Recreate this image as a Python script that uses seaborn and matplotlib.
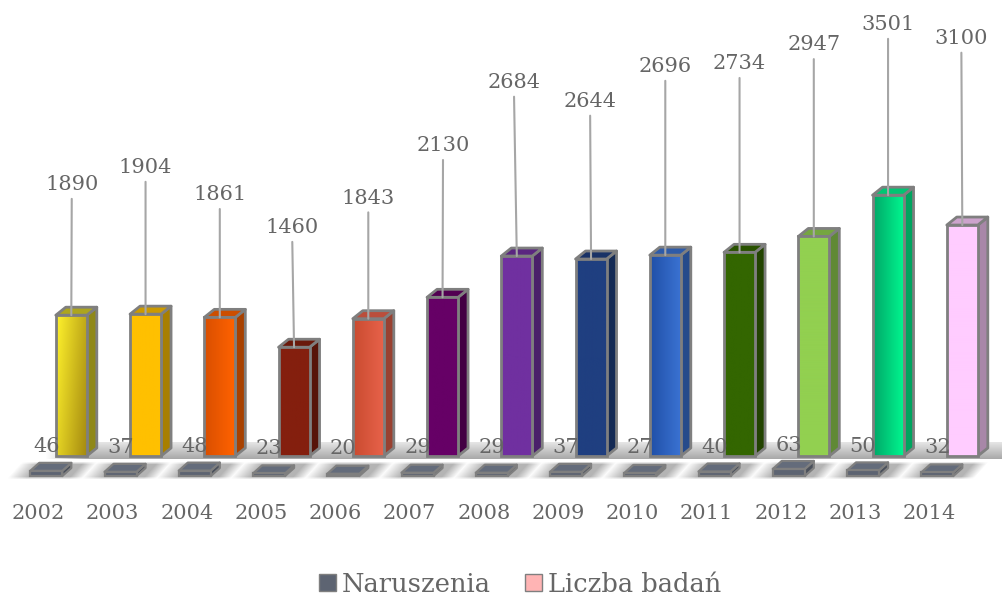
import numpy as np
import pandas as pd
import matplotlib
matplotlib.use('Agg')
import matplotlib.pyplot as plt
import matplotlib.patches as mpatches
from matplotlib.colors import to_rgb
from matplotlib.transforms import ScaledTranslation
import seaborn as sns

# THE DATA
years = ['2002', '2003', '2004', '2005', '2006', '2007', '2008', '2009', '2010', '2011', '2012', '2013', '2014']
naruszenia = [46, 37, 48, 23, 20, 29, 29, 37, 27, 40, 63, 50, 32]
liczba_badan = [1890, 1904, 1861, 1460, 1843, 2130, 2684, 2644, 2696, 2734, 2947, 3501, 3100]

# left and right colour of every front face
colors_left = ['#fff22c', '#ffc000', '#d94f00', '#841f0e', '#c94b30', '#660066', '#7030a0',
               '#1f3f80', '#2050a8', '#336600', '#92d050', '#00a868', '#ffccff']
colors_right = ['#a58a10', '#ffc000', '#ff6200', '#841f0e', '#e8624a', '#660066', '#7030a0',
                '#1f3f80', '#3a72d2', '#336600', '#92d050', '#00f890', '#ffccff']

# how far the labels were dragged from their bars, in pixels
label_lift = [130.5, 146.5, 122.5, 119.5, 120.5, 151.5, 173.5, 157.5, 188.5, 188.5, 191.5, 170.5, 186.5]
label_shift = [0.5, 0, 0, -2, 0, 0.5, -3, -1, 0, 0, 0, 0, -1]

# THE CHART
W, H = 1003, 595
X0, STEP = 71.3, 74.25     # pixel of the first bar, pixels per category
BASE, K = 456, 0.0745      # pixel of the baseline, pixels per value
AX_BOTTOM = 490
TEXT = '#666666'
EDGE = '#7f7f7f'
FONT = 'DejaVu Serif'

sns.set_style('white')
plt.rcParams['font.family'] = [FONT]

fig = plt.figure(figsize=(W / 100, H / 100), dpi=100)
ax = fig.add_axes([0, (H - AX_BOTTOM) / H, 1, AX_BOTTOM / H])

df = pd.DataFrame({'year': years, 'badania': liczba_badan, 'naruszenia': naruszenia})


def px_x(dx):
    return dx / STEP


def px_y(dy):
    return dy / K


def shade(color, f):
    return tuple(min(c * f, 1) for c in color)


def box_3d(bar, front, depth_x, depth_y, side_f=0.66, top_f=0.8, lw=2, z=3):
    x, y, w, h = bar.get_x(), bar.get_y(), bar.get_width(), bar.get_height()
    dx, dy = px_x(depth_x), px_y(depth_y)
    side = [(x + w, y), (x + w + dx, y + dy), (x + w + dx, y + h + dy), (x + w, y + h)]
    top = [(x, y + h), (x + dx, y + h + dy), (x + w + dx, y + h + dy), (x + w, y + h)]
    ax.add_patch(mpatches.Polygon(side, closed=True, fc=shade(front, side_f), ec=EDGE, lw=lw, zorder=z, joinstyle='round'))
    ax.add_patch(mpatches.Polygon(top, closed=True, fc=shade(front, top_f), ec=EDGE, lw=lw, zorder=z, joinstyle='round'))


# Tall bars
sns.barplot(data=df, x='year', y='badania', hue='year', palette=colors_right, legend=False,
            width=31 / STEP, edgecolor=EDGE, linewidth=2, saturation=1, ax=ax, zorder=4)
bars = list(ax.patches)
for i, bar in enumerate(bars):
    left, right = np.array(to_rgb(colors_left[i])), np.array(to_rgb(colors_right[i]))
    box_3d(bar, np.maximum(left, right) * (0.85 if i == 0 else 1), 10, 8)
    x, y, w, h = bar.get_x(), bar.get_y(), bar.get_width(), bar.get_height()
    tt = np.linspace(0, 1, 32)[None, :, None]
    if i == 0:  # the first bar runs diagonally
        tt = (np.linspace(0, 1, 32)[None, :] * 0.7 + np.linspace(0, 1, 64)[:, None] * 0.3)[:, :, None]
    img = left + (right - left) * tt
    im = ax.imshow(img, extent=(x, x + w, y, y + h), aspect='auto', origin='upper', zorder=3.5)
    im.set_clip_path(bar)
    bar.set_facecolor('none')

# Small slabs standing in front of the tall bars, a bit thicker than their scale to stay readable
n_before = len(ax.patches)
sns.barplot(data=df, x='year', y='naruszenia', hue='year', palette=['#5d6472'] * len(years), legend=False,
            width=32 / STEP, edgecolor=EDGE, linewidth=1.6, saturation=1, ax=ax, zorder=4)
slabs = [p for p in ax.patches[n_before:] if p.get_height() > 0]
for bar in slabs:
    bar.set_x(bar.get_x() - px_x(25))
    bar.set_y(bar.get_y() - px_y(20))
    bar.set_height(bar.get_height() * 1.5)
    box_3d(bar, to_rgb('#5d6472'), 9, 8, side_f=0.8, top_f=1.08, lw=1.6)

# Floor shadow behind everything
yy, xx = np.mgrid[0:AX_BOTTOM, 0:W]
band = (yy >= 442) & (yy <= 458) & (xx > 45)
alpha = (0.16 + 0.36 * np.clip((yy - 442) / 16, 0, 1)) * band * np.clip((xx - 45) / 40, 0, 1)
for i in range(len(years)):
    cx = X0 + STEP * i - 25
    skew = (476 - yy) * 0.9
    px = np.clip((xx - (cx - 38 + skew)) / 20, 0, 1) * np.clip(((cx + 38 + skew) - xx) / 14, 0, 1)
    py = np.clip((yy - 461) / 3, 0, 1) * np.clip((479 - yy) / 3, 0, 1)
    alpha = np.maximum(alpha, 0.45 * px * py)
floor = np.zeros((AX_BOTTOM, W, 4))
floor[..., :3] = 0.35
floor[..., 3] = alpha

# Data labels with their leader lines
for i, bar in enumerate(bars):
    ax.annotate(str(liczba_badan[i]), xy=(i, liczba_badan[i]),
                xytext=(label_shift[i], label_lift[i]), textcoords='offset pixels',
                ha='center', va='center', fontsize=15, color=TEXT, zorder=8,
                arrowprops=dict(arrowstyle='-', color='#a6a6a6', lw=1.5, shrinkA=1, shrinkB=0))
for i, bar in enumerate(slabs):
    ax.text(bar.get_x() + bar.get_width() / 2, bar.get_y() + px_y(naruszenia[i] * K + 26), str(naruszenia[i]),
            ha='center', va='center', fontsize=15, color=TEXT, zorder=8)

# Axes
ax.set_xlim(-X0 / STEP, (W - X0) / STEP)
ax.set_ylim((BASE - AX_BOTTOM) / K, BASE / K)
ax.imshow(floor, extent=ax.get_xlim() + ax.get_ylim(), aspect='auto', origin='upper', zorder=1)
ax.set_xlim(-X0 / STEP, (W - X0) / STEP)
ax.set_ylim((BASE - AX_BOTTOM) / K, BASE / K)
ax.set_xlabel('')
ax.set_ylabel('')
ax.set_yticks([])
ax.set_xticks(range(len(years)))
ax.set_xticklabels(years, fontsize=15, color=TEXT)
ax.tick_params(axis='x', length=0, pad=10)
for label in ax.get_xticklabels():
    label.set_transform(label.get_transform() + ScaledTranslation(-33 / 100, 0, fig.dpi_scale_trans))
sns.despine(ax=ax, left=True, bottom=True)
ax.patch.set_alpha(0)

# Legend
patch1 = mpatches.Patch(facecolor='#5d6472', edgecolor=EDGE, label='Naruszenia')
patch2 = mpatches.Patch(facecolor='#ffb4b4', edgecolor=EDGE, label='Liczba badań')
fig.legend(handles=[patch1, patch2], ncol=2, loc='center', bbox_to_anchor=(520 / W, 1 - 584 / H), frameon=False,
           handlelength=0.67, handleheight=0.67, handletextpad=0.25, columnspacing=1.3,
           prop={'family': FONT, 'size': 18.5}, labelcolor=TEXT)

fig.savefig('out.png', dpi=100)
